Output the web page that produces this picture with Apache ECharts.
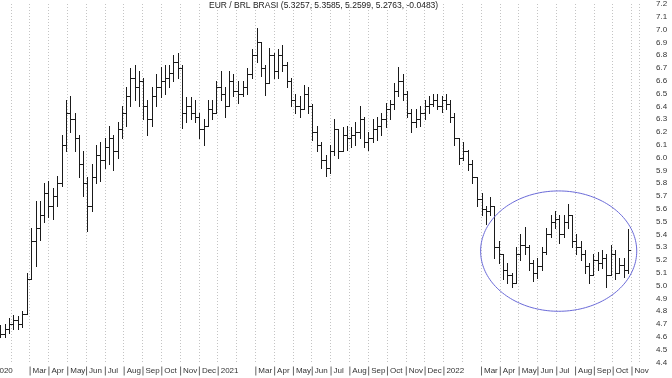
<!DOCTYPE html>
<html><head><meta charset="utf-8">
<script src="https://cdn.jsdelivr.net/npm/echarts@6/dist/echarts.min.js"></script>
<style>html,body{margin:0;padding:0;background:#fff}#c{width:672px;height:378px}</style>
</head><body><div id="c"></div>
<script>
const titleText = 'EUR / BRL BRASI (5.3257, 5.3585, 5.2599, 5.2763, -0.0483)';
const monthNames = ['Jan','Feb','Mar','Apr','May','Jun','Jul','Aug','Sep','Oct','Nov','Dec'];
const firstBarDate = '2020-01-15'; // weekly bars, one per week
const yMin = 4.4, yMax = 7.2, yStep = 0.1;
const xMaxMonth = 34.4; // months after Jan 2020 shown at the right edge

const opens = [4.66,4.62,4.66,4.70,4.73,4.70,4.78,5.05,5.35,5.45,5.55,5.72,5.62,5.70,5.80,6.10,6.35,6.30,6.15,5.95,
5.80,5.62,5.85,6.02,5.98,6.08,6.15,6.05,6.22,6.35,6.48,6.62,6.55,6.60,6.40,6.30,6.48,6.55,6.60,6.62,
6.66,6.75,6.70,6.35,6.40,6.35,6.32,6.22,6.25,6.38,6.35,6.55,6.50,6.40,6.60,6.52,6.50,6.55,6.65,6.80,
6.90,6.70,6.58,6.80,6.68,6.80,6.72,6.60,6.45,6.40,6.38,6.50,6.40,6.20,6.10,5.98,5.92,6.05,6.22,6.05,
6.18,6.15,6.18,6.20,6.30,6.12,6.15,6.22,6.25,6.30,6.38,6.42,6.52,6.60,6.50,6.35,6.28,6.30,6.35,6.40,
6.42,6.45,6.40,6.45,6.42,6.32,6.15,6.00,6.05,5.95,5.85,5.68,5.60,5.58,5.62,5.30,5.25,5.12,5.08,5.02,
5.25,5.32,5.30,5.18,5.10,5.15,5.26,5.40,5.50,5.52,5.40,5.50,5.55,5.35,5.30,5.25,5.15,5.08,5.20,5.18,
5.22,5.08,5.25,5.10,5.16,5.12];
const highs = [4.69,4.70,4.75,4.77,4.76,4.80,5.10,5.45,5.66,5.66,5.80,5.82,5.76,5.86,6.18,6.45,6.48,6.35,6.18,6.05,
5.85,5.95,6.10,6.12,6.15,6.25,6.18,6.28,6.40,6.55,6.70,6.72,6.68,6.62,6.45,6.55,6.65,6.71,6.72,6.72,
6.80,6.82,6.72,6.47,6.47,6.45,6.35,6.30,6.45,6.45,6.60,6.68,6.55,6.68,6.65,6.60,6.60,6.70,6.85,7.01,
6.90,6.72,6.86,6.82,6.85,6.88,6.75,6.62,6.50,6.48,6.57,6.55,6.42,6.25,6.12,6.02,6.10,6.30,6.22,6.24,
6.25,6.24,6.28,6.40,6.32,6.20,6.30,6.32,6.35,6.43,6.45,6.58,6.71,6.65,6.52,6.38,6.38,6.40,6.45,6.48,
6.50,6.50,6.48,6.50,6.45,6.35,6.15,6.12,6.06,5.98,5.85,5.72,5.62,5.69,5.62,5.35,5.25,5.18,5.10,5.30,
5.40,5.46,5.32,5.20,5.22,5.30,5.45,5.55,5.58,5.55,5.55,5.64,5.55,5.40,5.35,5.28,5.18,5.25,5.26,5.28,
5.25,5.32,5.28,5.22,5.22,5.44];
const lows = [4.60,4.60,4.63,4.66,4.66,4.68,4.78,5.05,5.15,5.36,5.50,5.54,5.52,5.62,5.78,6.05,6.20,6.05,5.85,5.70,
5.43,5.58,5.80,5.82,5.92,5.95,5.90,6.00,6.15,6.25,6.40,6.45,6.40,6.30,6.18,6.25,6.40,6.47,6.50,6.55,
6.60,6.62,6.23,6.28,6.30,6.28,6.15,6.10,6.25,6.30,6.35,6.45,6.32,6.40,6.48,6.43,6.48,6.50,6.62,6.75,
6.64,6.49,6.58,6.62,6.62,6.68,6.55,6.40,6.35,6.32,6.38,6.35,6.14,6.05,5.92,5.86,5.88,6.02,6.00,6.05,
6.06,6.08,6.10,6.15,6.08,6.06,6.12,6.14,6.18,6.24,6.30,6.38,6.48,6.45,6.32,6.20,6.24,6.25,6.30,6.35,
6.40,6.38,6.36,6.38,6.28,6.10,5.95,5.98,5.90,5.80,5.62,5.55,5.48,5.55,5.22,5.18,5.05,5.02,4.99,5.02,
5.20,5.25,5.12,5.04,5.06,5.12,5.25,5.38,5.45,5.33,5.38,5.45,5.30,5.25,5.20,5.10,5.02,5.08,5.12,5.14,
4.99,5.08,5.05,5.10,5.07,5.10];
const closes = [4.62,4.66,4.70,4.73,4.70,4.78,5.05,5.35,5.45,5.55,5.72,5.62,5.70,5.80,6.10,6.35,6.30,6.15,5.95,5.80,
5.62,5.85,6.02,5.98,6.08,6.15,6.05,6.22,6.35,6.48,6.62,6.55,6.60,6.40,6.30,6.48,6.55,6.60,6.62,6.66,
6.75,6.70,6.35,6.40,6.35,6.32,6.22,6.25,6.38,6.35,6.55,6.50,6.40,6.60,6.52,6.50,6.55,6.65,6.80,6.90,
6.70,6.58,6.80,6.68,6.80,6.72,6.60,6.45,6.40,6.38,6.50,6.40,6.20,6.10,5.98,5.92,6.05,6.22,6.05,6.18,
6.15,6.18,6.20,6.30,6.12,6.15,6.22,6.25,6.30,6.38,6.42,6.52,6.60,6.50,6.35,6.28,6.30,6.35,6.40,6.42,
6.45,6.40,6.45,6.42,6.32,6.15,6.00,6.05,5.95,5.85,5.68,5.60,5.58,5.62,5.30,5.25,5.12,5.08,5.02,5.25,
5.32,5.30,5.18,5.10,5.15,5.26,5.40,5.50,5.52,5.40,5.50,5.55,5.35,5.30,5.25,5.15,5.08,5.20,5.18,5.22,
5.08,5.25,5.10,5.16,5.12,5.28];

// annotation ellipse (data units: center date, center value, half-width in months, half-height in value)
const ellipseCenterDate = '2022-07-05';
const ellipseCenterValue = 5.27;
const ellipseHalfMonths = 4.15;
const ellipseHalfValue = 0.47;

function monthPos(d) {
  const y = d.getUTCFullYear(), m = d.getUTCMonth(), day = d.getUTCDate();
  const dim = new Date(Date.UTC(y, m + 1, 0)).getUTCDate();
  return (y - 2020) * 12 + m + (day - 1) / dim;
}
const start = new Date(firstBarDate + 'T00:00:00Z');
const barData = closes.map((c, i) => {
  const d = new Date(start.getTime() + i * 7 * 86400000);
  return [monthPos(d), opens[i], highs[i], lows[i], c];
});
const ellipseData = [[monthPos(new Date(ellipseCenterDate + 'T00:00:00Z')), ellipseCenterValue, ellipseHalfMonths, ellipseHalfValue]];

const FONT = 'Liberation Sans, Arial, sans-serif';
const chart = echarts.init(document.getElementById('c'), null, {renderer: 'canvas'});
const snap = v => Math.round(v) + 0.5;

chart.setOption({
  animation: false,
  backgroundColor: '#fff',
  title: {
    text: titleText, left: 209, top: 1, padding: 0,
    textStyle: {fontSize: 8.5, fontWeight: 'normal', color: '#222', fontFamily: FONT}
  },
  grid: {left: -8, right: 33, top: 4, bottom: 15.5, outerBoundsMode: 'none', containLabel: false},
  xAxis: {
    type: 'value', min: 0, max: xMaxMonth, interval: 1,
    axisLine: {show: false}, axisTick: {show: false},
    splitLine: {show: true, lineStyle: {color: '#c4c4c4', type: [1, 2], width: 1}},
    axisLabel: {
      show: true, align: 'left', margin: 4, showMinLabel: true, showMaxLabel: true, hideOverlap: false,
      formatter: function (v) {
        const r = Math.round(v);
        if (Math.abs(v - r) > 1e-6) return '';
        const mi = r % 12;
        if (mi === 1) return '';
        const txt = mi === 0 ? String(2020 + r / 12) : monthNames[mi];
        return '{b|}{t|' + txt + '}';
      },
      rich: {
        b: {width: 1, height: 9, backgroundColor: '#666'},
        t: {fontSize: 8, color: '#333', fontFamily: FONT, padding: [0, 0, 0, 2]}
      }
    }
  },
  yAxis: {
    type: 'value', position: 'right', min: yMin, max: yMax, interval: yStep,
    axisLine: {show: true, lineStyle: {color: '#444', width: 1}},
    axisTick: {show: true, length: 6, lineStyle: {color: '#444'}},
    minorTick: {show: true, splitNumber: 2, length: 3, lineStyle: {color: '#444'}},
    splitLine: {show: false},
    axisLabel: {margin: 17, fontSize: 8, color: '#333', fontFamily: FONT, formatter: v => v.toFixed(1)}
  },
  series: [{
    type: 'custom',
    data: barData,
    encode: {x: 0, y: [1, 2, 3, 4]},
    clip: true,
    renderItem: function (params, api) {
      const x = api.value(0);
      const pH = api.coord([x, api.value(2)]);
      const pL = api.coord([x, api.value(3)]);
      const pO = api.coord([x, api.value(1)]);
      const pC = api.coord([x, api.value(4)]);
      const px = snap(pH[0]);
      const st = {stroke: '#1a1a1a', lineWidth: 1};
      return {type: 'group', children: [
        {type: 'line', shape: {x1: px, y1: Math.round(pH[1]), x2: px, y2: Math.round(pL[1]) + 1}, style: st},
        {type: 'line', shape: {x1: px - 2.5, y1: snap(pO[1]), x2: px, y2: snap(pO[1])}, style: st},
        {type: 'line', shape: {x1: px, y1: snap(pC[1]), x2: px + 2.5, y2: snap(pC[1])}, style: st}
      ]};
    }
  }, {
    type: 'custom',
    data: ellipseData,
    encode: {x: 0, y: 1},
    clip: false,
    silent: true,
    renderItem: function (params, api) {
      const cx = api.value(0), cy = api.value(1);
      const c = api.coord([cx, cy]);
      const a = api.coord([cx + api.value(2), cy])[0] - c[0];
      const b = c[1] - api.coord([cx, cy + api.value(3)])[1];
      const pts = [];
      for (let k = 0; k < 180; k++) {
        const t = k / 180 * Math.PI * 2;
        pts.push([c[0] + a * Math.cos(t), c[1] + b * Math.sin(t)]);
      }
      return {type: 'polygon', shape: {points: pts}, style: {fill: 'none', stroke: '#6a6ad8', lineWidth: 1}};
    }
  }]
});
</script></body></html>
